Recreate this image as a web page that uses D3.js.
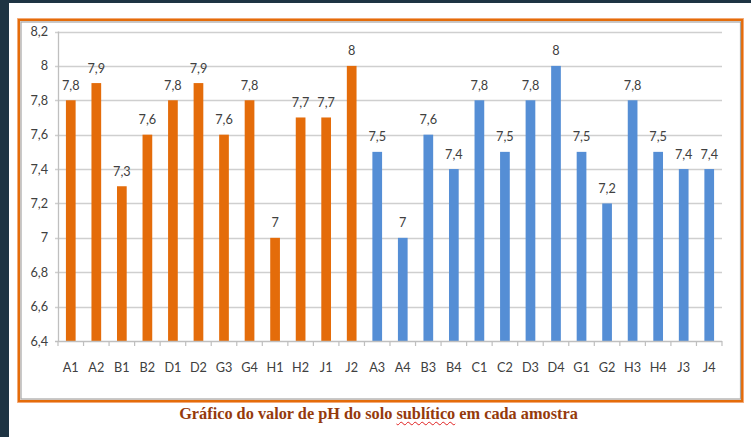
<!DOCTYPE html>
<html>
<head>
<meta charset="utf-8">
<script src="https://cdn.jsdelivr.net/npm/d3@7"></script>
<style>
  html, body { margin: 0; padding: 0; background: #1e3443; }
  #page { position: absolute; left: 9px; top: 3px; width: 742px; height: 434px; background: #fff; }
  #chart { position: absolute; left: 0; top: 0; }
  #title {
    position: absolute; left: 0; top: 404px; width: 757px; text-align: center;
    font-family: "Liberation Serif", serif; font-weight: bold; font-size: 16.3px; color: #953a0c;
  }
  #title span { text-decoration: underline wavy #e02020; text-decoration-thickness: 1px; text-underline-offset: 2px; }
</style>
</head>
<body>
<div id="page"></div>
<svg id="chart" width="751" height="437"></svg>
<div id="title">Gráfico do valor de pH do solo <span>sublítico</span> em cada amostra</div>
<script>
// amostras e valores de pH
const orangeSamples = ["A1", "A2", "B1", "B2", "D1", "D2", "G3", "G4", "H1", "H2", "J1", "J2"]
const orangeValues = [7.8, 7.9, 7.3, 7.6, 7.8, 7.9, 7.6, 7.8, 7.0, 7.7, 7.7, 8.0]
const blueSamples = ["A3", "A4", "B3", "B4", "C1", "C2", "D3", "D4", "G1", "G2", "H3", "H4", "J3", "J4"]
const blueValues = [7.5, 7.0, 7.6, 7.4, 7.8, 7.5, 7.8, 8.0, 7.5, 7.2, 7.8, 7.5, 7.4, 7.4]
const yTicks = [6.4, 6.6, 6.8, 7, 7.2, 7.4, 7.6, 7.8, 8, 8.2]

const data = orangeSamples.map((s, i) => ({ name: s, value: orangeValues[i], color: "#e46c0a" }))
  .concat(blueSamples.map((s, i) => ({ name: s, value: blueValues[i], color: "#558ed5" })))

const svg = d3.select("#chart")
const fmt = v => String(+v.toFixed(1)).replace(".", ",")
const labelFont = "Lato, sans-serif"

//frame
svg.append("rect").attr("x", 17.5).attr("y", 18.5).attr("width", 726).attr("height", 384)
  .attr("fill", "none").attr("stroke", "#f4b183").attr("stroke-width", 1)
svg.append("rect").attr("x", 19).attr("y", 20).attr("width", 723).attr("height", 381)
  .attr("fill", "none").attr("stroke", "#e46c0a").attr("stroke-width", 2.2)
svg.append("rect").attr("x", 21).attr("y", 22).attr("width", 719.5).attr("height", 377)
  .attr("fill", "#fff").attr("stroke", "#a6a6a6").attr("stroke-width", 1.2)

const plotLeft = 58, plotRight = 722, plotTop = 31.5, plotBottom = 341

const x = d3.scaleBand().domain(data.map(d => d.name)).range([plotLeft, plotRight]).paddingInner(0.62).paddingOuter(0.31)
const y = d3.scaleLinear().domain([6.4, 8.2]).range([plotBottom, plotTop])

//gridlines
svg.append("g").selectAll("line").data(yTicks.slice(1)).join("line")
  .attr("x1", plotLeft - 3).attr("x2", plotRight)
  .attr("y1", d => Math.round(y(d)) + 0.5).attr("y2", d => Math.round(y(d)) + 0.5)
  .attr("stroke", "#cfcfcf").attr("stroke-width", 1.3)

//y axis
svg.append("line").attr("x1", plotLeft + 0.5).attr("x2", plotLeft + 0.5).attr("y1", plotTop).attr("y2", plotBottom)
  .attr("stroke", "#bfbfbf").attr("stroke-width", 1.3)
svg.append("g").selectAll("text").data(yTicks).join("text")
  .attr("x", plotLeft - 10).attr("y", d => y(d) + 4.5)
  .attr("text-anchor", "end")
  .style("font-family", labelFont).style("font-size", "12.7px").attr("fill", "#404040")
  .text(fmt)

//bars
svg.append("g").selectAll("rect").data(data).join("rect")
  .attr("x", d => x(d.name)).attr("width", x.bandwidth())
  .attr("y", d => y(d.value)).attr("height", d => y(6.4) - y(d.value))
  .attr("fill", d => d.color)

//x axis
svg.append("line").attr("x1", plotLeft - 3).attr("x2", plotRight).attr("y1", plotBottom + 0.5).attr("y2", plotBottom + 0.5)
  .attr("stroke", "#bfbfbf").attr("stroke-width", 1.3)
const step = x.step()
svg.append("g").selectAll("line").data(d3.range(data.length + 1)).join("line")
  .attr("x1", i => plotLeft + i * step).attr("x2", i => plotLeft + i * step)
  .attr("y1", plotBottom).attr("y2", plotBottom + 5)
  .attr("stroke", "#bfbfbf").attr("stroke-width", 1.2)
svg.append("g").selectAll("text").data(data).join("text")
  .attr("x", d => x(d.name) + x.bandwidth() / 2).attr("y", plotBottom + 31)
  .attr("text-anchor", "middle")
  .style("font-family", labelFont).style("font-size", "12.7px").attr("fill", "#404040")
  .text(d => d.name)

//data labels
svg.append("g").selectAll("text").data(data).join("text")
  .attr("x", d => x(d.name) + x.bandwidth() / 2).attr("y", d => y(d.value) - 10.5)
  .attr("text-anchor", "middle")
  .style("font-family", labelFont).style("font-size", "12.7px").attr("fill", "#404040")
  .text(d => fmt(d.value))
</script>
</body>
</html>
